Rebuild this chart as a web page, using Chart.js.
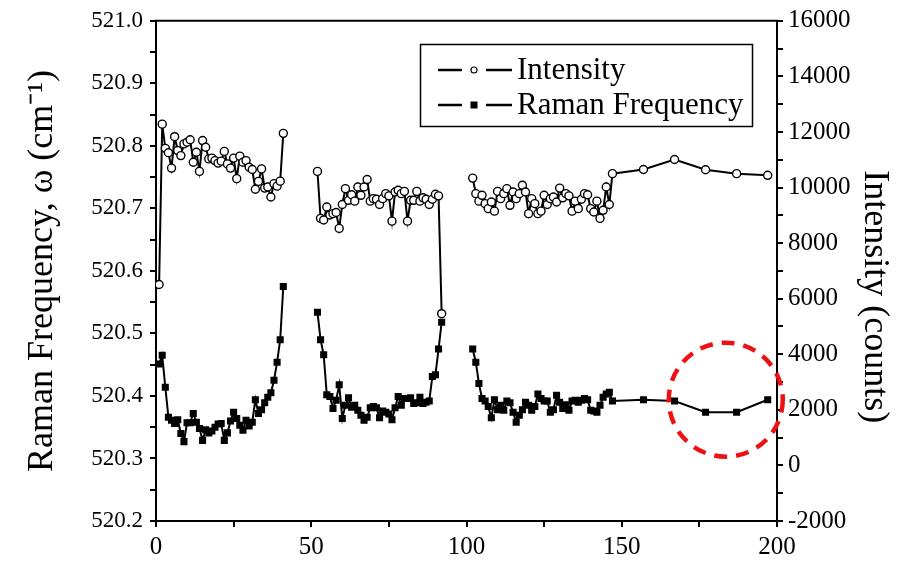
<!DOCTYPE html>
<html>
<head>
<meta charset="utf-8">
<script src="https://cdn.jsdelivr.net/npm/chart.js@4.4.1/dist/chart.umd.min.js"></script>
<style>
  html, body { margin: 0; padding: 0; background: #fff; }
  #wrap { width: 902px; height: 563px; position: relative; }
</style>
</head>
<body>
<div id="wrap"><canvas id="chart"></canvas></div>
<script>
// Scan positions; the null rows at 46 and 97 break the line between scan blocks.
const positions = [
  1, 2, 3, 4, 5, 6, 7, 8, 9, 10, 11, 12, 13, 14, 15, 16, 17, 18, 19, 20,
  21, 22, 23, 24, 25, 26, 27, 28, 29, 30, 31, 32, 33, 34, 35, 36, 37, 38, 39, 40, 41,
  46,
  52, 53, 54, 55, 56, 57, 58, 59, 60, 61, 62, 63, 64, 65, 66, 67, 68, 69, 70, 71,
  72, 73, 74, 75, 76, 77, 78, 79, 80, 81, 82, 83, 84, 85, 86, 87, 88, 89, 90, 91, 92,
  97,
  102, 103, 104, 105, 106, 107, 108, 109, 110, 111, 112, 113, 114, 115, 116, 117, 118,
  119, 120, 121, 122, 123, 124, 125, 126, 127, 128, 129, 130, 131, 132, 133, 134, 135,
  136, 137, 138, 139, 140, 141, 142, 143, 144, 145, 146,
  147, 157, 167, 177, 187, 197
];

// Intensity (counts), right axis
const intensity = [
  6510, 12280, 11410, 11250, 10700, 11830, 11330, 11150, 11570, 11630, 11720, 10910,
  11270, 10580, 11690, 11450, 11030, 11060, 10970, 10880, 10950, 11300, 10850, 10700,
  11060, 10320, 11130, 10910, 10970, 10730, 10650, 9940, 10220, 10670, 9980, 10020,
  9660, 10140, 10050, 10230, 11950,
  null,
  10580, 8890, 8830, 9300, 9010, 9060, 9100, 8530, 9390, 9960, 9540, 9740, 9510,
  10020, 9720, 10020, 10290, 9510, 9600, 9580, 9390, 9600, 9780, 9700, 8790, 9840,
  9900, 9780, 9860, 8790, 9540, 9540, 9860, 9510, 9630, 9580, 9390, 9580, 9760, 9700,
  5460,
  null,
  10340, 9780, 9510, 9720, 9420, 9240, 9480, 9150, 9860, 9600, 9780, 9960, 9360,
  9840, 9600, 9780, 10080, 9840, 9060, 9600, 9420, 9060, 9150, 9720, 9390, 9600,
  9660, 9480, 9980, 9630, 9780, 9700, 9150, 9510, 9240, 9580, 9780, 9740, 9240,
  9120, 9510, 8890, 9180, 10020, 9390,
  10500, 10650, 11010, 10640, 10500, 10440
];

// Raman frequency (cm-1), left axis
const ramanFrequency = [
  520.451, 520.465, 520.414, 520.366, 520.361, 520.356, 520.362, 520.340, 520.327,
  520.357, 520.357, 520.372, 520.358, 520.348, 520.329, 520.346, 520.341, 520.344,
  520.350, 520.355, 520.356, 520.329, 520.341, 520.360, 520.374, 520.364, 520.353,
  520.345, 520.361, 520.352, 520.358, 520.394, 520.372, 520.378, 520.389, 520.398,
  520.405, 520.425, 520.454, 520.490, 520.575,
  null,
  520.534, 520.490, 520.466, 520.402, 520.399, 520.380, 520.393, 520.418, 520.364,
  520.385, 520.397, 520.382, 520.385, 520.377, 520.369, 520.361, 520.366, 520.381,
  520.383, 520.381, 520.365, 520.376, 520.374, 520.371, 520.362, 520.381, 520.399,
  520.385, 520.396, 520.396, 520.397, 520.388, 520.389, 520.398, 520.388, 520.390,
  520.392, 520.431, 520.434, 520.475, 520.518,
  null,
  520.475, 520.454, 520.420, 520.396, 520.392, 520.383, 520.365, 520.394, 520.378,
  520.385, 520.377, 520.392, 520.389, 520.374, 520.358, 520.369, 520.378, 520.390,
  520.385, 520.377, 520.383, 520.403, 520.396, 520.392, 520.392, 520.374, 520.378,
  520.401, 520.390, 520.380, 520.386, 520.377, 520.392, 520.393, 520.390, 520.393,
  520.396, 520.394, 520.377, 520.376, 520.374, 520.385, 520.398, 520.403, 520.406,
  520.392, 520.394, 520.392, 520.374, 520.374, 520.394
];

// Axis ranges and labelled ticks
const xLabelTicks = [0, 50, 100, 150, 200];
const ramanLabelTicks = [520.2, 520.3, 520.4, 520.5, 520.6, 520.7, 520.8, 520.9, 521.0];
const intensityLabelTicks = [-2000, 0, 2000, 4000, 6000, 8000, 10000, 12000, 14000, 16000];

// Region of interest ringed in red (scan position, frequency)
const highlightPos = 183.5;
const highlightFreq = 520.394;

const FONT = '"Liberation Serif", "Times New Roman", serif';
const near = (v, list) => list.some(t => Math.abs(t - v) < 1e-6);

const toPoints = vals => positions.map((x, i) => ({ x: x, y: vals[i] }));

const frameAndMarks = {
  id: 'frameAndMarks',
  afterDraw(chart) {
    const { ctx, chartArea: a, scales } = chart;
    ctx.save();
    // top frame line
    ctx.strokeStyle = '#000';
    ctx.lineWidth = 2;
    ctx.beginPath();
    ctx.moveTo(a.left - 1, a.top);
    ctx.lineTo(a.right + 1, a.top);
    ctx.stroke();

    // right axis title, set a little below the axis centre
    ctx.save();
    ctx.translate(874, a.top + 276);
    ctx.rotate(Math.PI / 2);
    ctx.fillStyle = '#000';
    ctx.font = '36px ' + FONT;
    ctx.textAlign = 'center';
    ctx.textBaseline = 'middle';
    ctx.fillText('Intensity (counts)', 0, 0);
    ctx.restore();

    // dashed red ring
    const cx = scales.x.getPixelForValue(highlightPos);
    const cy = scales.yR.getPixelForValue(highlightFreq);
    ctx.strokeStyle = '#ee1111';
    ctx.lineWidth = 4.5;
    ctx.setLineDash([13, 9]);
    ctx.beginPath();
    ctx.arc(cx, cy, 57, 0, Math.PI * 2);
    ctx.stroke();
    ctx.setLineDash([]);

    // legend box
    const bx = 420, by = 44, bw = 332, bh = 82;
    ctx.strokeStyle = '#000';
    ctx.lineWidth = 1.5;
    ctx.strokeRect(bx + 0.5, by + 0.5, bw, bh);
    const rows = [
      { label: chart.data.datasets[0].label, y: by + 26, marker: 'circle' },
      { label: chart.data.datasets[1].label, y: by + 61, marker: 'rect' }
    ];
    rows.forEach(r => {
      ctx.strokeStyle = '#000';
      ctx.lineWidth = 2.5;
      ctx.beginPath();
      ctx.moveTo(bx + 18, r.y); ctx.lineTo(bx + 42, r.y);
      ctx.moveTo(bx + 66, r.y); ctx.lineTo(bx + 92, r.y);
      ctx.stroke();
      const mx = bx + 54;
      if (r.marker === 'circle') {
        ctx.lineWidth = 1.2;
        ctx.fillStyle = '#fff';
        ctx.beginPath();
        ctx.arc(mx, r.y, 3, 0, Math.PI * 2);
        ctx.fill();
        ctx.stroke();
      } else {
        ctx.fillStyle = '#000';
        ctx.fillRect(mx - 3.5, r.y - 3.5, 7, 7);
      }
      ctx.fillStyle = '#000';
      ctx.font = '31px ' + FONT;
      ctx.textBaseline = 'middle';
      ctx.textAlign = 'left';
      ctx.fillText(r.label, bx + 97, r.y + 1);
    });
    ctx.restore();
  }
};

const leftTickFont = { family: FONT, size: 23 };
const tickFont = { family: FONT, size: 25 };
const titleFont = { family: FONT, size: 36 };

new Chart(document.getElementById('chart'), {
  type: 'line',
  data: {
    datasets: [
      {
        label: 'Intensity',
        data: toPoints(intensity),
        yAxisID: 'yI',
        borderColor: '#000',
        borderWidth: 2,
        pointStyle: 'circle',
        pointRadius: 4,
        pointBackgroundColor: '#fff',
        pointBorderColor: '#000',
        pointBorderWidth: 1.4,
        tension: 0,
        spanGaps: false
      },
      {
        label: 'Raman Frequency',
        data: toPoints(ramanFrequency),
        yAxisID: 'yR',
        borderColor: '#000',
        borderWidth: 2,
        pointStyle: 'rect',
        pointRadius: 5,
        pointBackgroundColor: '#000',
        pointBorderColor: '#000',
        pointBorderWidth: 0,
        tension: 0,
        spanGaps: false
      }
    ]
  },
  options: {
    responsive: true,
    maintainAspectRatio: false,
    animation: false,
    devicePixelRatio: 1,
    layout: { padding: { top: 18, left: 0, right: 0, bottom: 0 } },
    plugins: { legend: { display: false }, tooltip: { enabled: false } },
    scales: {
      x: {
        type: 'linear',
        min: 0, max: 200,
        ticks: {
          stepSize: 25, autoSkip: false, maxRotation: 0,
          color: '#000', font: tickFont, padding: 5,
          callback: v => near(v, xLabelTicks) ? String(v) : ''
        },
        grid: { drawOnChartArea: false, tickLength: 6, color: '#000', lineWidth: 2 },
        border: { color: '#000', width: 2 },
        afterFit: s => { s.height = 42; }
      },
      yR: {
        type: 'linear',
        position: 'left',
        min: 520.2, max: 521.0,
        ticks: {
          stepSize: 0.05, autoSkip: false,
          color: '#000', font: leftTickFont, padding: 7,
          callback: v => near(v, ramanLabelTicks) ? v.toFixed(1) : ''
        },
        grid: { drawOnChartArea: false, tickLength: 6, color: '#000', lineWidth: 2 },
        border: { color: '#000', width: 2 },
        title: {
          display: true, text: 'Raman Frequency, ω (cm⁻¹)',
          color: '#000', font: titleFont, padding: { top: 21, bottom: 0 }
        },
        afterFit: s => { s.width = 156; }
      },
      yI: {
        type: 'linear',
        position: 'right',
        min: -2000, max: 16000,
        ticks: {
          stepSize: 1000, autoSkip: false,
          color: '#000', font: tickFont, padding: 5,
          callback: v => near(v, intensityLabelTicks) ? String(v) : ''
        },
        grid: { drawOnChartArea: false, tickLength: 6, color: '#000', lineWidth: 2 },
        border: { color: '#000', width: 2 },
        afterFit: s => { s.width = 125; }
      }
    }
  },
  plugins: [frameAndMarks]
});
</script>
</body>
</html>
